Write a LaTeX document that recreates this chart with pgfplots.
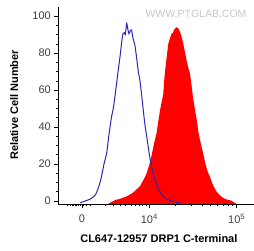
\documentclass[border=0pt]{standalone}
\usepackage{pgfplots}
\pgfplotsset{compat=1.18}
\usepackage{fontspec}
\setmainfont{Liberation Sans}
\definecolor{histblue}{RGB}{40,40,175}
\begin{document}
\begin{tikzpicture}
\path[use as bounding box] (-58.3pt,-47pt) rectangle (195.7pt,204pt);
\begin{axis}[
 scale only axis, width=195.7pt, height=197pt,
 xmin=58.3, xmax=254, ymin=-1.6, ymax=104.9,
 axis x line=bottom, axis y line=left,
 axis line style={-, line width=0.6pt},
 tick align=outside,
 ytick={0,20,40,60,80,100}, minor y tick num=3,
 xtick={82,149.3,236.7},
 xticklabels={0,10\textsuperscript{4},10\textsuperscript{5}},
 minor xtick={67.7,70,72,73.3,75,76.7,78.3,80,83.3,86.7,90.7,105,113.3,120,125.7,131,135,139,142.3,146,175.6,191,202,210.4,217.3,223.2,228.2,232.7},
 major tick length=4pt, minor tick length=2.5pt,
 every tick/.style={black, line width=0.6pt},
 ticklabel style={font=\fontsize{11}{13}\selectfont, text=black!75},
 xticklabel style={yshift=-3pt},
 /pgf/number format/assume math mode=true,
 ylabel={Relative Cell Number},
 xlabel={CL647-12957 DRP1 C-terminal},
 every axis y label/.style={at={(axis description cs:-0.226,0.503)}, rotate=90, anchor=center, font=\fontsize{11}{13}\selectfont\bfseries},
 every axis x label/.style={at={(axis description cs:0.514,-0.178)}, anchor=center, font=\fontsize{11}{13}\selectfont\bfseries},
 clip=false,
]
\addplot[draw=none, fill=red] coordinates {
(108,-1.6) (115,0.5) (120,1.2) (126.7,2.5) (133,4.5) (140,8) (144,12) (146.7,15) (150,21) (151.7,25) (154,31) (156.7,37) (158,42) (160,49) (161.5,53) (163.3,58) (164,64) (165,70) (166.5,77) (168.3,85) (170,88) (171.7,90.6) (173,91) (174.5,93) (176.7,94) (178.3,93.3) (180,91.5) (181.5,89) (183.3,85) (185.5,79) (187,75) (188.3,72) (190,69) (191.7,62) (193,56) (194.5,51) (196.7,44) (198.5,37) (200,33) (201.7,29) (203.3,25.5) (205,21) (207,17) (208.3,15) (210,13) (212,10) (214,7.5) (216.7,5) (220,3) (223,1.7) (226.7,0.8) (231,0.3) (236.7,-1.6)
} -- cycle;
\addplot[histblue, line width=1pt, smooth, tension=0.3] coordinates {
(80,-1) (85,0) (90,1) (95,3) (98,6.5) (101,12) (104,20) (106.7,26) (109,36) (111.7,46) (113.3,50) (116,61) (118.3,71) (120,78) (121.7,86) (123,90.5) (124.3,91) (125.3,90) (126.7,96) (127.8,93) (129,90.5) (130.3,92) (131.5,92.5) (133,88) (135,84) (136.7,77) (138.3,70) (140,65) (141.7,57) (143.3,49) (145,41) (146.7,35) (148.3,29) (150,23) (151.7,18.5) (153.3,14.5) (155,11.4) (157,8.5) (160,5) (163.3,2.5) (166.7,1.2) (170,0.4) (175,-0.5) (180,-1)
};
\node[text=black!22, font=\fontsize{10.5}{11}\selectfont] at (axis cs:196,101) {WWW.PTGLAB.COM};
\end{axis}
\end{tikzpicture}
\end{document}
